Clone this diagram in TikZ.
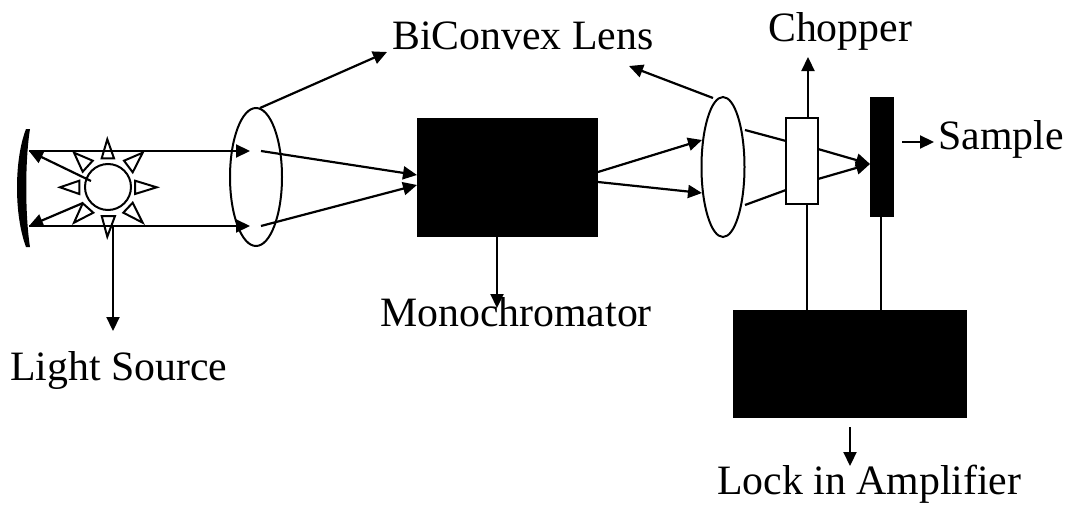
\documentclass[tikz,border=0pt]{standalone}
\usepackage{fontspec}
\setmainfont{Liberation Serif}
\usetikzlibrary{arrows.meta,shapes.geometric}
\tikzset{
  lbl/.style={anchor=base west,inner sep=0pt,font=\fontsize{41.8}{48}\selectfont},
  blk/.style={draw=black,fill=black,rectangle,inner sep=0pt},
  lensshape/.style={draw=black,line width=2pt,ellipse,inner sep=0pt,fill=none},
  wht/.style={draw=black,line width=2.2pt,fill=white,rectangle,inner sep=0pt},
  ray/.style={line width=2.2pt,draw=black},
  arr/.style={ray,-{Triangle[length=14pt,width=13pt]}},
  tri/.style={draw=black,line width=2pt,fill=white,line join=miter},
}
\begin{document}
\begin{tikzpicture}[x=1pt,y=-1pt]
\useasboundingbox (0,0) rectangle (1069,506);
% mirror
\fill[black] (30,129) .. controls (25,160) and (25,215) .. (30,247) -- (26,247) .. controls (14,215) and (14,160) .. (26,129) -- cycle;
% boxes and lenses
\node[blk,minimum width=180pt,minimum height=118pt] (mono) at (507.5,177.5) {};
\node[blk,minimum width=233pt,minimum height=107pt] (lock) at (850,364) {};
\node[blk,minimum width=23pt,minimum height=119pt] (sample) at (881.5,156.5) {};
\node[wht,minimum width=32pt,minimum height=86pt] (chop) at (802,161) {};
\node[lensshape,minimum width=52pt,minimum height=138pt] (lensA) at (256,177) {};
\node[lensshape,minimum width=43pt,minimum height=140pt] (lensB) at (723,167) {};
\node[draw=black,line width=2pt,circle,minimum size=46pt,inner sep=0pt] (lamp) at (108,187) {};
% labels
\node[lbl] (tLens) at (392,49) {BiConvex Lens};
\node[lbl] (tChop) at (768,41) {Chopper};
\node[lbl] (tSample) at (938,149) {Sample};
\node[lbl] (tMono) at (380,326) {Monochromator};
\node[lbl] (tLight) at (10,380) {Light Source};
\node[lbl] (tLock) at (717,494) {Lock in Amplifier};
% lamp rays
\draw[tri] (107.3,139.3)--(101.7,158.3)--(114,158.3)--cycle;
\draw[tri] (74,152.7)--(92.7,160.7)--(82.7,171.7)--cycle;
\draw[tri] (142.7,152.7)--(124,160.7)--(132.7,172.3)--cycle;
\draw[tri] (60,187.3)--(79.3,180.7)--(79.3,194)--cycle;
\draw[tri] (156.7,187.3)--(135,180.7)--(135,194)--cycle;
\draw[tri] (74,222.7)--(82.7,203.3)--(93.3,212.7)--cycle;
\draw[tri] (142.7,222.7)--(123.3,212.7)--(132.7,202.7)--cycle;
\draw[tri] (107.3,236.7)--(101.7,216)--(115,216)--cycle;
% free ends
\coordinate (mTop) at (29,151);
\coordinate (mBot) at (29,226);
\coordinate (aTopIn) at (250,151);
\coordinate (aBotIn) at (250,226);
\coordinate (aTopOut) at (261,151);
\coordinate (aBotOut) at (261,226);
\coordinate (mIn1) at (417,175);
\coordinate (mIn2) at (417,185);
\coordinate (mOut1) at (598,172);
\coordinate (mOut2) at (598,182);
\coordinate (bIn1) at (702,140);
\coordinate (bIn2) at (702,193);
\coordinate (bOut1) at (745,130);
\coordinate (bOut2) at (745,205);
\coordinate (cIn1) at (786,141);
\coordinate (cIn2) at (786,190);
\coordinate (cOut1) at (818,149);
\coordinate (cOut2) at (818,179);
\coordinate (sIn) at (870,164);
\coordinate (lampA) at (91,181);
\coordinate (lampB) at (83,203);
\coordinate (lampC) at (113,226);
\coordinate (lightTip) at (113,331);
\coordinate (aTop) at (260,108);
\coordinate (lensTipA) at (387,52);
\coordinate (bTop) at (713,98);
\coordinate (lensTipB) at (629,66);
\coordinate (monoA) at (497,237);
\coordinate (monoTip) at (497,308);
\coordinate (chopA) at (808,118);
\coordinate (chopTip) at (808,57);
\coordinate (chopB) at (807,204);
\coordinate (chopC) at (807,310);
\coordinate (samB) at (881,216);
\coordinate (samC) at (881,310);
\coordinate (samA) at (902,142);
\coordinate (samTip) at (934,142);
\coordinate (lockA) at (850,427);
\coordinate (lockTip) at (850,466);
% connectors
\draw[arr] (mTop) -- (aTopIn);
\draw[arr] (mBot) -- (aBotIn);
\draw[arr] (lampA) -- (mTop);
\draw[arr] (lampB) -- (mBot);
\draw[arr] (lampC) -- (lightTip);
\draw[arr] (aTopOut) -- (mIn1);
\draw[arr] (aBotOut) -- (mIn2);
\draw[arr] (aTop) -- (lensTipA);
\draw[arr] (mOut1) -- (bIn1);
\draw[arr] (mOut2) -- (bIn2);
\draw[arr] (bTop) -- (lensTipB);
\draw[ray] (bOut1) -- (cIn1);
\draw[ray] (bOut2) -- (cIn2);
\draw[arr] (cOut1) -- (sIn);
\draw[arr] (cOut2) -- (sIn);
\draw[arr] (chopA) -- (chopTip);
\draw[ray] (chopB) -- (chopC);
\draw[ray] (samB) -- (samC);
\draw[arr] (samA) -- (samTip);
\draw[arr] (monoA) -- (monoTip);
\draw[arr] (lockA) -- (lockTip);
\end{tikzpicture}
\end{document}
